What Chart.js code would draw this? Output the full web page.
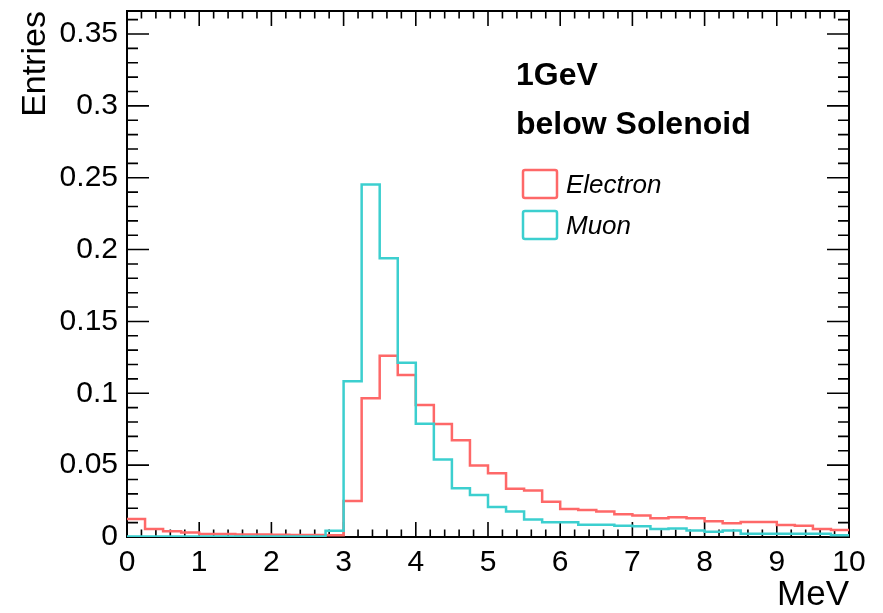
<!DOCTYPE html>
<html>
<head>
<meta charset="utf-8">
<script src="https://cdn.jsdelivr.net/npm/chart.js@4/dist/chart.umd.min.js"></script>
<style>
    html, body { margin: 0; padding: 0; background: #fff; }
    #wrap { width: 883px; height: 613px; }
</style>
</head>
<body>
<div id="wrap"><canvas id="histChart" width="883" height="613"></canvas></div>
<script>
// histogram binning: 40 bins of 0.25 MeV from 0 to 10
const BIN_LOW = 0;
const BIN_WIDTH = 0.25;

const electronValues = [
    0.0126, 0.0056, 0.0040, 0.0032, 0.0021, 0.0021, 0.0018, 0.0018,
    0.0016, 0.0014, 0.0014, 0.0012, 0.0250, 0.0965, 0.1262, 0.1128,
    0.0918, 0.0787, 0.0673, 0.0497, 0.0444, 0.0335, 0.0323, 0.0246,
    0.0195, 0.0188, 0.0177, 0.0159, 0.0149, 0.0130, 0.0137, 0.0130,
    0.0109, 0.0095, 0.0105, 0.0105, 0.0084, 0.0079, 0.0056, 0.0049
];
const muonValues = [
    0.0004, 0.0004, 0.0004, 0.0004, 0.0004, 0.0004, 0.0004, 0.0004,
    0.0004, 0.0004, 0.0004, 0.0044, 0.1083, 0.2452, 0.1940, 0.1212,
    0.0788, 0.0540, 0.0340, 0.0293, 0.0209, 0.0177, 0.0121, 0.0102,
    0.0102, 0.0086, 0.0085, 0.0079, 0.0074, 0.0056, 0.0060, 0.0046,
    0.0037, 0.0046, 0.0023, 0.0023, 0.0023, 0.0023, 0.0023, 0.0012
];

const xTickValues = [0, 1, 2, 3, 4, 5, 6, 7, 8, 9, 10];
const yTickValues = [0, 0.05, 0.1, 0.15, 0.2, 0.25, 0.3, 0.35];
const headerLines = ['1GeV', 'below Solenoid'];

const FONT = "'Liberation Sans', Arial, Helvetica, sans-serif";

function toSteps(values) {
    const pts = values.map((v, i) => ({ x: BIN_LOW + i * BIN_WIDTH, y: v }));
    pts.push({ x: BIN_LOW + values.length * BIN_WIDTH, y: values[values.length - 1] });
    return pts;
}

// ROOT-like frame with inward ticks on all four sides
const frameTicks = {
    id: 'frameTicks',
    beforeDatasetsDraw(chart) {
        const { ctx, chartArea: a, scales } = chart;
        ctx.save();
        ctx.strokeStyle = '#000';
        ctx.lineWidth = 1.6;
        ctx.beginPath();

        const xs = scales.x;
        const xMaj = xs.ticks.map(t => t.value);
        const xStep = xMaj[1] - xMaj[0];
        for (let i = 0; i < xMaj.length; i++) {
            const px = xs.getPixelForValue(xMaj[i]);
            ctx.moveTo(px, a.bottom); ctx.lineTo(px, a.bottom - 15);
            ctx.moveTo(px, a.top); ctx.lineTo(px, a.top + 15);
            if (i < xMaj.length - 1) {
                for (let k = 1; k < 5; k++) {
                    const m = xs.getPixelForValue(xMaj[i] + k * xStep / 5);
                    ctx.moveTo(m, a.bottom); ctx.lineTo(m, a.bottom - 7.5);
                    ctx.moveTo(m, a.top); ctx.lineTo(m, a.top + 7.5);
                }
            }
        }

        const ys = scales.y;
        const yMaj = ys.ticks.map(t => t.value);
        const yStep = yMaj[1] - yMaj[0];
        for (let i = 0; i < yMaj.length; i++) {
            const py = ys.getPixelForValue(yMaj[i]);
            ctx.moveTo(a.left, py); ctx.lineTo(a.left + 22, py);
            ctx.moveTo(a.right, py); ctx.lineTo(a.right - 22, py);
            for (let k = 1; k < 5; k++) {
                const v = yMaj[i] + k * yStep / 5;
                if (v > ys.max) break;
                const m = ys.getPixelForValue(v);
                ctx.moveTo(a.left, m); ctx.lineTo(a.left + 11, m);
                ctx.moveTo(a.right, m); ctx.lineTo(a.right - 11, m);
            }
        }
        ctx.stroke();

        ctx.lineWidth = 2;
        ctx.strokeRect(a.left, a.top, a.right - a.left, a.bottom - a.top);
        ctx.restore();
    },
    afterDraw(chart) {
        const { ctx } = chart;
        ctx.save();
        ctx.fillStyle = '#000';
        ctx.textAlign = 'left';
        ctx.textBaseline = 'alphabetic';
        ctx.font = 'bold 32px ' + FONT;
        ctx.fillText(headerLines[0], 516, 85);
        ctx.fillText(headerLines[1], 516, 134);

        // legend
        chart.data.datasets.forEach((ds, i) => {
            const y = 170 + i * 41;
            ctx.strokeStyle = ds.borderColor;
            ctx.lineWidth = 2.5;
            ctx.beginPath();
            ctx.roundRect(523, y, 34, 28, 2);
            ctx.stroke();
            ctx.fillStyle = '#000';
            ctx.font = 'italic 26px ' + FONT;
            ctx.fillText(ds.label, 566, y + 23);
        });
        ctx.restore();
    }
};

new Chart(document.getElementById('histChart'), {
    type: 'line',
    data: {
        datasets: [{
            label: 'Electron',
            data: toSteps(electronValues),
            borderColor: '#fe6868',
            borderWidth: 2.5,
            stepped: 'before',
            pointRadius: 0,
            fill: false,
            order: 1
        }, {
            label: 'Muon',
            data: toSteps(muonValues),
            borderColor: '#3ccfcf',
            borderWidth: 2.5,
            stepped: 'before',
            pointRadius: 0,
            fill: false,
            order: 0
        }]
    },
    options: {
        responsive: false,
        animation: false,
        devicePixelRatio: 1,
        layout: { padding: { top: 11, right: 34, left: 0, bottom: 0 } },
        plugins: {
            legend: { display: false },
            tooltip: { enabled: false }
        },
        scales: {
            x: {
                type: 'linear',
                min: 0,
                max: 10,
                grid: { display: false, drawTicks: false },
                border: { display: false },
                afterBuildTicks: s => { s.ticks = xTickValues.map(v => ({ value: v })); },
                afterFit: s => { s.height = 76; },
                ticks: {
                    color: '#000',
                    padding: 8,
                    maxRotation: 0,
                    autoSkip: false,
                    font: { family: FONT, size: 30 }
                },
                title: {
                    display: true,
                    text: 'MeV',
                    align: 'end',
                    color: '#000',
                    font: { family: FONT, size: 35, lineHeight: 1 },
                    padding: { top: 0, bottom: 0 }
                }
            },
            y: {
                min: 0,
                max: 0.366,
                grid: { display: false, drawTicks: false },
                border: { display: false },
                afterBuildTicks: s => { s.ticks = yTickValues.map(v => ({ value: v })); },
                afterFit: s => { s.width = 127; s.paddingTop = 0; },
                ticks: {
                    color: '#000',
                    padding: 9,
                    font: { family: FONT, size: 30 },
                    callback: v => String(+v.toFixed(3))
                },
                title: {
                    display: true,
                    text: 'Entries',
                    align: 'end',
                    color: '#000',
                    font: { family: FONT, size: 34, lineHeight: 1 },
                    padding: { top: 19, bottom: 0 }
                }
            }
        }
    },
    plugins: [frameTicks]
});
</script>
</body>
</html>
